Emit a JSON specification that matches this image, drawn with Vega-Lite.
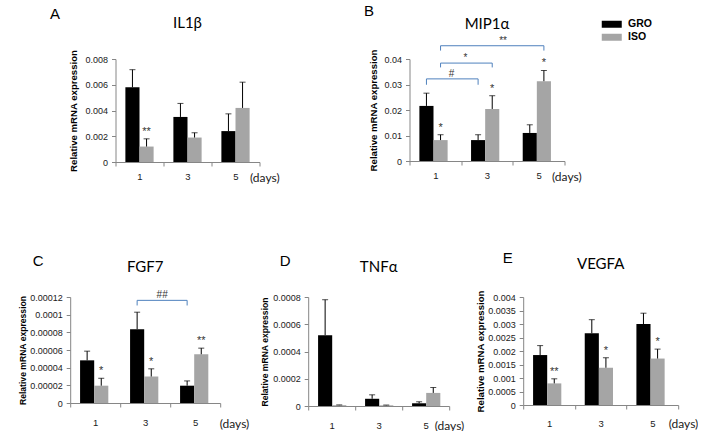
{
  "$schema": "https://vega.github.io/schema/vega-lite/v6.json",
  "background": "white",
  "padding": {"left": 18, "top": 3, "right": 0, "bottom": 0},
  "config": {
    "view": {"stroke": null},
    "font": "Liberation Sans",
    "title": {"font": "Lato", "fontSize": 15, "fontWeight": "normal", "color": "#000"},
    "axis": {"grid": false, "domainColor": "#868686", "tickColor": "#868686", "labelColor": "#1a1a1a", "labelFont": "Liberation Sans", "labelFontSize": 9, "titleFont": "Liberation Sans", "titleFontWeight": "bold", "titleFontSize": 9.6, "titleColor": "#000", "tickSize": 4},
    "axisX": {"labelAngle": 0, "tickBand": "extent", "labelPadding": 5, "titleFont": "Lato", "titleFontWeight": "normal", "titleFontSize": 12, "titleAlign": "left", "titleBaseline": "middle", "titleColor": "#1a1a1a", "labelFontSize": 9.5},
    "axisY": {"labelPadding": 4, "titlePadding": 6, "labelOverlap": false, "labelExpr": "format(datum.value, '~g')"}
  },
  "spacing": 68,
  "center": true,
  "resolve": {"scale": {"color": "independent"}},
  "vconcat": [
    {
      "spacing": 84,
      "resolve": {"scale": {"color": "independent"}},
      "hconcat": [
        {
          "title": {"text": "A", "anchor": "start", "frame": "bounds", "offset": -6, "dx": -19, "font": "Liberation Sans", "fontSize": 15},
          "vconcat": [
            {
              "width": 144, "height": 103,
              "title": {"text": "IL1β", "offset": 18},
              "data": {"values": [
                {"day": 1, "group": "GRO", "value": 0.0058, "err": 0.00717},
                {"day": 1, "group": "ISO", "value": 0.0012, "err": 0.0018, "sig": "**"},
                {"day": 3, "group": "GRO", "value": 0.0035, "err": 0.00455},
                {"day": 3, "group": "ISO", "value": 0.0019, "err": 0.00227},
                {"day": 5, "group": "GRO", "value": 0.0024, "err": 0.00374},
                {"day": 5, "group": "ISO", "value": 0.0042, "err": 0.0062}
              ]},
              "encoding": {
                "x": {"field": "day", "type": "ordinal", "scale": {"paddingInner": 0, "paddingOuter": 0}, "axis": {"title": "(days)", "titleX": 134, "titleY": 15}},
                "xOffset": {"field": "group", "type": "nominal", "scale": {"domain": ["GRO", "ISO"], "paddingInner": 0, "paddingOuter": 0.7}}
              },
              "layer": [
                {"mark": {"type": "bar"}, "encoding": {
                  "y": {"field": "value", "type": "quantitative", "title": "Relative mRNA expression", "scale": {"domain": [0, 0.008], "nice": false}, "axis": {"values": [0, 0.002, 0.004, 0.006, 0.008]}},
                  "color": {"field": "group", "type": "nominal", "scale": {"domain": ["GRO", "ISO"], "range": ["#000000", "#a5a5a5"]}, "legend": null}}},
                {"mark": {"type": "rule", "color": "#000", "strokeWidth": 1}, "encoding": {"y": {"field": "value", "type": "quantitative", "title": "Relative mRNA expression", "axis": {"values": [0, 0.002, 0.004, 0.006, 0.008]}}, "y2": {"field": "err"}}},
                {"mark": {"type": "tick", "color": "#000", "size": 6, "thickness": 1}, "encoding": {"y": {"field": "err", "type": "quantitative", "title": "Relative mRNA expression", "axis": {"values": [0, 0.002, 0.004, 0.006, 0.008]}}}},
                {"transform": [{"filter": "isValid(datum.sig)"}], "mark": {"type": "text", "baseline": "alphabetic", "dy": -4, "fontSize": 11, "color": "#333"}, "encoding": {"y": {"field": "err", "type": "quantitative", "title": "Relative mRNA expression", "axis": {"values": [0, 0.002, 0.004, 0.006, 0.008]}}, "text": {"field": "sig"}}}
              ]
            }
          ]
        },
        {
          "title": {"text": "B", "anchor": "start", "frame": "bounds", "offset": -2, "dx": -5, "font": "Liberation Sans", "fontSize": 15},
          "vconcat": [
            {
              "width": 155, "height": 102,
              "title": {"text": "MIP1α", "offset": 4},
              "data": {"values": [
                {"day": 1, "group": "GRO", "value": 0.0216, "err": 0.0266},
                {"day": 1, "group": "ISO", "value": 0.0082, "err": 0.0103, "sig": "*"},
                {"day": 3, "group": "GRO", "value": 0.0082, "err": 0.0103},
                {"day": 3, "group": "ISO", "value": 0.0204, "err": 0.0256, "sig": "*"},
                {"day": 5, "group": "GRO", "value": 0.011, "err": 0.0142},
                {"day": 5, "group": "ISO", "value": 0.0313, "err": 0.0355, "sig": "*"}
              ]},
              "encoding": {
                "x": {"field": "day", "type": "ordinal", "scale": {"paddingInner": 0, "paddingOuter": 0}, "axis": {"title": "(days)", "titleX": 142, "titleY": 15}},
                "xOffset": {"field": "group", "type": "nominal", "scale": {"domain": ["GRO", "ISO"], "paddingInner": 0, "paddingOuter": 0.7}}
              },
              "layer": [
                {"mark": {"type": "bar"}, "encoding": {
                  "y": {"field": "value", "type": "quantitative", "title": "Relative mRNA expression", "scale": {"domain": [0, 0.04], "nice": false}, "axis": {"values": [0, 0.01, 0.02, 0.03, 0.04], "titlePadding": 5}},
                  "color": {"field": "group", "type": "nominal", "scale": {"domain": ["GRO", "ISO"], "range": ["#000000", "#a5a5a5"]},
                    "legend": {"orient": "none", "legendX": 197, "legendY": -40, "title": null, "direction": "vertical", "symbolType": "M-2,-0.7H2V0.7H-2Z", "symbolSize": 100, "symbolStrokeWidth": 0, "labelFont": "Liberation Sans", "labelFontWeight": "bold", "labelFontSize": 10.5, "labelColor": "#000", "labelOffset": 11, "rowPadding": 2}}}},
                {"mark": {"type": "rule", "color": "#000", "strokeWidth": 1}, "encoding": {"y": {"field": "value", "type": "quantitative", "title": "Relative mRNA expression", "axis": {"values": [0, 0.01, 0.02, 0.03, 0.04], "titlePadding": 5}}, "y2": {"field": "err"}}},
                {"mark": {"type": "tick", "color": "#000", "size": 6, "thickness": 1}, "encoding": {"y": {"field": "err", "type": "quantitative", "title": "Relative mRNA expression", "axis": {"values": [0, 0.01, 0.02, 0.03, 0.04], "titlePadding": 5}}}},
                {"transform": [{"filter": "isValid(datum.sig)"}], "mark": {"type": "text", "baseline": "alphabetic", "dy": -4, "fontSize": 11, "color": "#333"}, "encoding": {"y": {"field": "err", "type": "quantitative", "title": "Relative mRNA expression", "axis": {"values": [0, 0.01, 0.02, 0.03, 0.04], "titlePadding": 5}}, "text": {"field": "sig"}}},
                {"data": {"values": [
                  {"b": "a", "day": 1, "group": "GRO", "y": 0.0299, "o": 0},
                  {"b": "a", "day": 1, "group": "GRO", "y": 0.0322, "o": 1},
                  {"b": "a", "day": 3, "group": "GRO", "y": 0.0322, "o": 2},
                  {"b": "a", "day": 3, "group": "GRO", "y": 0.0299, "o": 3},
                  {"b": "b", "day": 1, "group": "ISO", "y": 0.0367, "o": 0},
                  {"b": "b", "day": 1, "group": "ISO", "y": 0.0384, "o": 1},
                  {"b": "b", "day": 3, "group": "ISO", "y": 0.0384, "o": 2},
                  {"b": "b", "day": 3, "group": "ISO", "y": 0.0367, "o": 3},
                  {"b": "c", "day": 1, "group": "ISO", "y": 0.0433, "o": 0},
                  {"b": "c", "day": 1, "group": "ISO", "y": 0.0452, "o": 1},
                  {"b": "c", "day": 5, "group": "ISO", "y": 0.0452, "o": 2},
                  {"b": "c", "day": 5, "group": "ISO", "y": 0.0433, "o": 3}
                ]},
                 "mark": {"type": "line", "color": "#4f81bd", "strokeWidth": 1},
                 "encoding": {"y": {"field": "y", "type": "quantitative", "title": "Relative mRNA expression", "axis": {"values": [0, 0.01, 0.02, 0.03, 0.04], "titlePadding": 5}}, "detail": {"field": "b"}, "order": {"field": "o"}}},
                {"data": {"values": [
                  {"t": "#", "day": 1, "group": "GRO", "y": 0.0322},
                  {"t": "*", "day": 1, "group": "ISO", "y": 0.0384},
                  {"t": "**", "day": 3, "group": "GRO", "y": 0.0452}
                ]},
                 "mark": {"type": "text", "dx": 25, "dy": -2, "baseline": "alphabetic", "fontSize": 10, "color": "#333"},
                 "encoding": {"y": {"field": "y", "type": "quantitative", "title": "Relative mRNA expression", "axis": {"values": [0, 0.01, 0.02, 0.03, 0.04], "titlePadding": 5}}, "text": {"field": "t"}}}
              ]
            }
          ]
        }
      ]
    },
    {
      "spacing": 11,
      "resolve": {"scale": {"color": "independent"}},
      "hconcat": [
        {
          "title": {"text": "C", "anchor": "start", "frame": "bounds", "offset": -9, "dx": 14, "font": "Liberation Sans", "fontSize": 15},
          "vconcat": [
            {
              "width": 150, "height": 106,
              "title": {"text": "FGF7", "offset": 15.5},
              "data": {"values": [
                {"day": 1, "group": "GRO", "value": 0.0000483, "err": 0.0000587},
                {"day": 1, "group": "ISO", "value": 0.0000196, "err": 0.000028, "sig": "*"},
                {"day": 3, "group": "GRO", "value": 0.0000836, "err": 0.0001028},
                {"day": 3, "group": "ISO", "value": 0.00003, "err": 0.0000387, "sig": "*"},
                {"day": 5, "group": "GRO", "value": 0.0000196, "err": 0.000025},
                {"day": 5, "group": "ISO", "value": 0.0000552, "err": 0.0000621, "sig": "**"}
              ]},
              "encoding": {
                "x": {"field": "day", "type": "ordinal", "scale": {"paddingInner": 0, "paddingOuter": 0}, "axis": {"title": "(days)", "titleX": 149, "titleY": 20, "labelPadding": 10}},
                "xOffset": {"field": "group", "type": "nominal", "scale": {"domain": ["GRO", "ISO"], "paddingInner": 0, "paddingOuter": 0.7}}
              },
              "layer": [
                {"mark": {"type": "bar"}, "encoding": {
                  "y": {"field": "value", "type": "quantitative", "title": "Relative mRNA expression", "scale": {"domain": [0, 0.00012], "nice": false}, "axis": {"titleFontSize": 8.6, "titlePadding": 2, "values": [0, 0.00002, 0.00004, 0.00006, 0.00008, 0.0001, 0.00012]}},
                  "color": {"field": "group", "type": "nominal", "scale": {"domain": ["GRO", "ISO"], "range": ["#000000", "#a5a5a5"]}, "legend": null}}},
                {"mark": {"type": "rule", "color": "#000", "strokeWidth": 1}, "encoding": {"y": {"field": "value", "type": "quantitative", "title": "Relative mRNA expression", "axis": {"titleFontSize": 8.6, "titlePadding": 2, "values": [0, 0.00002, 0.00004, 0.00006, 0.00008, 0.0001, 0.00012]}}, "y2": {"field": "err"}}},
                {"mark": {"type": "tick", "color": "#000", "size": 6, "thickness": 1}, "encoding": {"y": {"field": "err", "type": "quantitative", "title": "Relative mRNA expression", "axis": {"titleFontSize": 8.6, "titlePadding": 2, "values": [0, 0.00002, 0.00004, 0.00006, 0.00008, 0.0001, 0.00012]}}}},
                {"transform": [{"filter": "isValid(datum.sig)"}], "mark": {"type": "text", "baseline": "alphabetic", "dy": -4, "fontSize": 11, "color": "#333"}, "encoding": {"y": {"field": "err", "type": "quantitative", "title": "Relative mRNA expression", "axis": {"titleFontSize": 8.6, "titlePadding": 2, "values": [0, 0.00002, 0.00004, 0.00006, 0.00008, 0.0001, 0.00012]}}, "text": {"field": "sig"}}},
                {"data": {"values": [
                  {"b": "a", "day": 3, "group": "GRO", "y": 0.0001104, "o": 0},
                  {"b": "a", "day": 3, "group": "GRO", "y": 0.0001162, "o": 1},
                  {"b": "a", "day": 5, "group": "GRO", "y": 0.0001162, "o": 2},
                  {"b": "a", "day": 5, "group": "GRO", "y": 0.0001104, "o": 3}
                ]},
                 "mark": {"type": "line", "color": "#4f81bd", "strokeWidth": 1},
                 "encoding": {"y": {"field": "y", "type": "quantitative", "title": "Relative mRNA expression", "axis": {"titleFontSize": 8.6, "titlePadding": 2, "values": [0, 0.00002, 0.00004, 0.00006, 0.00008, 0.0001, 0.00012]}}, "detail": {"field": "b"}, "order": {"field": "o"}}},
                {"data": {"values": [
                  {"t": "##", "day": 3, "group": "GRO", "y": 0.0001162}
                ]},
                 "mark": {"type": "text", "dx": 25, "dy": -2, "baseline": "alphabetic", "fontSize": 10, "color": "#333"},
                 "encoding": {"y": {"field": "y", "type": "quantitative", "title": "Relative mRNA expression", "axis": {"titleFontSize": 8.6, "titlePadding": 2, "values": [0, 0.00002, 0.00004, 0.00006, 0.00008, 0.0001, 0.00012]}}, "text": {"field": "t"}}}
              ]
            }
          ]
        },
        {
          "title": {"text": "D", "anchor": "start", "frame": "bounds", "offset": -8.5, "dx": 19, "font": "Liberation Sans", "fontSize": 15},
          "vconcat": [
            {
              "width": 141, "height": 109,
              "title": {"text": "TNFα", "offset": 18},
              "data": {"values": [
                {"day": 1, "group": "GRO", "value": 0.00052, "err": 0.00078},
                {"day": 1, "group": "ISO", "value": 0.000006, "err": 0.000008},
                {"day": 3, "group": "GRO", "value": 0.000053, "err": 0.000082},
                {"day": 3, "group": "ISO", "value": 0.000005, "err": 0.000007},
                {"day": 5, "group": "GRO", "value": 0.00002, "err": 0.000031},
                {"day": 5, "group": "ISO", "value": 0.000096, "err": 0.000136}
              ]},
              "encoding": {
                "x": {"field": "day", "type": "ordinal", "scale": {"paddingInner": 0, "paddingOuter": 0}, "axis": {"title": "(days)", "titleX": 126, "titleY": 19, "labelPadding": 10}},
                "xOffset": {"field": "group", "type": "nominal", "scale": {"domain": ["GRO", "ISO"], "paddingInner": 0, "paddingOuter": 0.7}}
              },
              "layer": [
                {"mark": {"type": "bar"}, "encoding": {
                  "y": {"field": "value", "type": "quantitative", "title": "Relative mRNA expression", "scale": {"domain": [0, 0.0008], "nice": false}, "axis": {"titleFontSize": 8.6, "titlePadding": 3, "values": [0, 0.0002, 0.0004, 0.0006, 0.0008]}},
                  "color": {"field": "group", "type": "nominal", "scale": {"domain": ["GRO", "ISO"], "range": ["#000000", "#a5a5a5"]}, "legend": null}}},
                {"mark": {"type": "rule", "color": "#000", "strokeWidth": 1}, "encoding": {"y": {"field": "value", "type": "quantitative", "title": "Relative mRNA expression", "axis": {"titleFontSize": 8.6, "titlePadding": 3, "values": [0, 0.0002, 0.0004, 0.0006, 0.0008]}}, "y2": {"field": "err"}}},
                {"mark": {"type": "tick", "color": "#000", "size": 6, "thickness": 1}, "encoding": {"y": {"field": "err", "type": "quantitative", "title": "Relative mRNA expression", "axis": {"titleFontSize": 8.6, "titlePadding": 3, "values": [0, 0.0002, 0.0004, 0.0006, 0.0008]}}}}
              ]
            }
          ]
        },
        {
          "title": {"text": "E", "anchor": "start", "frame": "bounds", "offset": -9.5, "dx": 27, "font": "Liberation Sans", "fontSize": 15},
          "vconcat": [
            {
              "width": 155, "height": 108,
              "title": {"text": "VEGFA", "offset": 18},
              "data": {"values": [
                {"day": 1, "group": "GRO", "value": 0.00185, "err": 0.0022},
                {"day": 1, "group": "ISO", "value": 0.0008, "err": 0.00097, "sig": "**"},
                {"day": 3, "group": "GRO", "value": 0.00266, "err": 0.00316},
                {"day": 3, "group": "ISO", "value": 0.00138, "err": 0.00175, "sig": "*"},
                {"day": 5, "group": "GRO", "value": 0.003, "err": 0.0034},
                {"day": 5, "group": "ISO", "value": 0.00172, "err": 0.00207, "sig": "*"}
              ]},
              "encoding": {
                "x": {"field": "day", "type": "ordinal", "scale": {"paddingInner": 0, "paddingOuter": 0}, "axis": {"title": "(days)", "titleX": 145, "titleY": 18, "labelPadding": 9}},
                "xOffset": {"field": "group", "type": "nominal", "scale": {"domain": ["GRO", "ISO"], "paddingInner": 0, "paddingOuter": 0.7}}
              },
              "layer": [
                {"mark": {"type": "bar"}, "encoding": {
                  "y": {"field": "value", "type": "quantitative", "title": "Relative mRNA expression", "scale": {"domain": [0, 0.004], "nice": false}, "axis": {"titlePadding": 2, "values": [0, 0.0005, 0.001, 0.0015, 0.002, 0.0025, 0.003, 0.0035, 0.004]}},
                  "color": {"field": "group", "type": "nominal", "scale": {"domain": ["GRO", "ISO"], "range": ["#000000", "#a5a5a5"]}, "legend": null}}},
                {"mark": {"type": "rule", "color": "#000", "strokeWidth": 1}, "encoding": {"y": {"field": "value", "type": "quantitative", "title": "Relative mRNA expression", "axis": {"titlePadding": 2, "values": [0, 0.0005, 0.001, 0.0015, 0.002, 0.0025, 0.003, 0.0035, 0.004]}}, "y2": {"field": "err"}}},
                {"mark": {"type": "tick", "color": "#000", "size": 6, "thickness": 1}, "encoding": {"y": {"field": "err", "type": "quantitative", "title": "Relative mRNA expression", "axis": {"titlePadding": 2, "values": [0, 0.0005, 0.001, 0.0015, 0.002, 0.0025, 0.003, 0.0035, 0.004]}}}},
                {"transform": [{"filter": "isValid(datum.sig)"}], "mark": {"type": "text", "baseline": "alphabetic", "dy": -4, "fontSize": 11, "color": "#333"}, "encoding": {"y": {"field": "err", "type": "quantitative", "title": "Relative mRNA expression", "axis": {"titlePadding": 2, "values": [0, 0.0005, 0.001, 0.0015, 0.002, 0.0025, 0.003, 0.0035, 0.004]}}, "text": {"field": "sig"}}}
              ]
            }
          ]
        }
      ]
    }
  ]
}
